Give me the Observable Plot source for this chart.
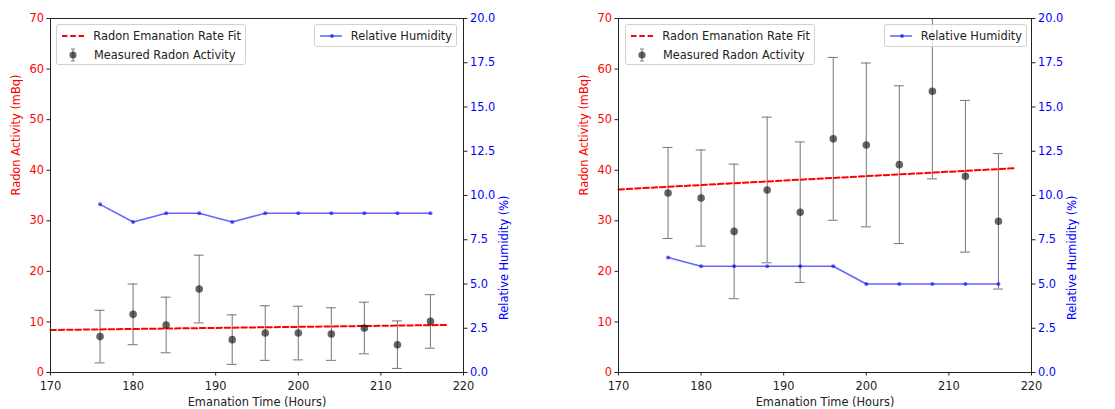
<!DOCTYPE html>
<html>
<head>
<meta charset="utf-8">
<script src="https://cdn.jsdelivr.net/npm/d3@7"></script>
<script src="https://cdn.jsdelivr.net/npm/@observablehq/plot@0.6"></script>
<style>
  html, body { margin: 0; padding: 0; background: #fff; }
  body { width: 1115px; height: 409px; overflow: hidden; font-family: "DejaVu Sans", sans-serif; }
  #row { display: flex; }
  .panel { position: relative; }
  .legend { position: absolute; background: rgba(255,255,255,0.8); border: 1px solid #d0d0d0; border-radius: 3px;
            font-family: "DejaVu Sans", sans-serif; font-size: 11.4px; color: #222; box-sizing: border-box; }
  .legend .item { display: flex; align-items: center; height: 19px; white-space: nowrap; }
  .legend svg { display: block; margin-right: 9px; }
</style>
</head>
<body>
<div id="row"></div>
<script>
// Shared categories
const hours = [176, 180, 184, 188, 192, 196, 200, 204, 208, 212, 216];
const xTicks = [170, 180, 190, 200, 210, 220];
const yTicks = [0, 10, 20, 30, 40, 50, 60, 70];
const rhTicks = [0, 2.5, 5, 7.5, 10, 12.5, 15, 17.5, 20];
const fitHours = [170, 218];

// Panel 1
const activity1 = [7.1, 11.5, 9.4, 16.5, 6.5, 7.8, 7.8, 7.6, 8.8, 5.5, 10.1];
const error1 = [5.2, 6.0, 5.5, 6.7, 4.9, 5.4, 5.3, 5.2, 5.1, 4.7, 5.3];
const fit1 = [8.4, 9.4];
const humidity1 = [9.5, 8.5, 9.0, 9.0, 8.5, 9.0, 9.0, 9.0, 9.0, 9.0, 9.0];

// Panel 2
const activity2 = [35.5, 34.5, 27.9, 36.1, 31.7, 46.2, 45.0, 41.1, 55.6, 38.8, 29.9];
const error2 = [9.0, 9.5, 13.3, 14.4, 13.9, 16.1, 16.2, 15.6, 17.3, 15.0, 13.4];
const fit2 = [36.2, 40.4];
const humidity2 = [6.5, 6.0, 6.0, 6.0, 6.0, 6.0, 5.0, 5.0, 5.0, 5.0, 5.0];

const Y_MAX = 70, RH_MAX = 20, K = Y_MAX / RH_MAX;
const DARK = "#222";
const BLUE = "blue";
const RED = "red";
const FS = 11.4;

function makePanel({activity, error, fit, humidity, width, marginLeft, marginRight, leg1, leg2}) {
  const meas = hours.map((h, i) => ({h, v: activity[i], lo: activity[i] - error[i], hi: activity[i] + error[i]}));
  const fitData = fitHours.map((h, i) => ({h, v: fit[i]}));
  const rh = hours.map((h, i) => ({h, v: humidity[i] * K}));
  const plot = Plot.plot({
    width, height: 409,
    marginLeft, marginRight, marginTop: 18, marginBottom: 37,
    style: {fontFamily: "DejaVu Sans, sans-serif", fontSize: FS + "px", background: "white"},
    x: {type: "linear", domain: [170, 220], label: null},
    y: {type: "linear", domain: [0, Y_MAX], label: null},
    marks: [
      // Error bars
      Plot.ruleX(meas, {x: "h", y1: "lo", y2: "hi", stroke: "#808080", strokeWidth: 1.1, clip: true}),
      Plot.ruleY(meas, {y: "lo", x1: d => d.h - 0.6, x2: d => d.h + 0.6, stroke: "#808080", strokeWidth: 1.1, clip: true}),
      Plot.ruleY(meas.filter(d => d.hi <= Y_MAX), {y: "hi", x1: d => d.h - 0.6, x2: d => d.h + 0.6, stroke: "#808080", strokeWidth: 1.1, clip: true}),
      // Fit line
      Plot.line(fitData, {x: "h", y: "v", stroke: RED, strokeWidth: 2, strokeDasharray: "5.5,2.8"}),
      // Measured points
      Plot.dot(meas, {x: "h", y: "v", r: 3.8, fill: "black", fillOpacity: 0.6, stroke: "none"}),
      // Humidity
      Plot.line(rh, {x: "h", y: "v", stroke: BLUE, strokeOpacity: 0.6, strokeWidth: 1.6}),
      Plot.dot(rh, {x: "h", y: "v", r: 2, fill: BLUE, fillOpacity: 0.6, stroke: "none"}),
      // Frame
      Plot.frame({stroke: DARK, strokeWidth: 1}),
      // X axis
      Plot.axisX({ticks: xTicks, tickSize: 3.5, tickPadding: 5.5, color: DARK, label: null}),
      // Left Y axis: ticks dark, labels red
      Plot.axisY({anchor: "left", ticks: yTicks, tickSize: 3.5, tickFormat: () => "", color: DARK, label: null}),
      Plot.axisY({anchor: "left", ticks: yTicks, tickSize: 0, tickPadding: 6.5, color: RED, label: null}),
      // Right Y axis: ticks dark, labels blue
      Plot.axisY({anchor: "right", ticks: rhTicks.map(t => t * K), tickSize: 3.5, tickFormat: () => "", color: DARK, label: null}),
      Plot.axisY({anchor: "right", ticks: rhTicks.map(t => t * K), tickSize: 0, tickPadding: 6.5,
        tickFormat: d => (d / K).toFixed(1), color: BLUE, label: null}),
      // Axis titles
      Plot.text(["Emanation Time (Hours)"], {frameAnchor: "bottom", dy: 33, fill: DARK, fontSize: FS}),
      Plot.text(["Radon Activity (mBq)"], {frameAnchor: "left", dx: -34, rotate: -90, fill: RED, fontSize: FS}),
      Plot.text(["Relative Humidity (%)"], {frameAnchor: "right", dx: 41, rotate: -90, fill: BLUE, fontSize: FS})
    ]
  });
  const wrap = document.createElement("div");
  wrap.className = "panel";
  wrap.style.width = width + "px";
  wrap.appendChild(plot);

  const l1 = document.createElement("div");
  l1.className = "legend";
  Object.assign(l1.style, {left: leg1.left + "px", top: "24px", width: leg1.width + "px", height: "41px", padding: "1px 4px"});
  l1.innerHTML = `
    <div class="item"><svg width="24" height="10"><line x1="1" y1="5" x2="23" y2="5" stroke="${RED}" stroke-width="2" stroke-dasharray="5.5,2.8"/></svg>Radon Emanation Rate Fit</div>
    <div class="item"><svg width="24" height="14"><line x1="12" y1="1" x2="12" y2="13" stroke="#808080" stroke-width="1.1"/><line x1="10" y1="1" x2="14" y2="1" stroke="#808080"/><line x1="10" y1="13" x2="14" y2="13" stroke="#808080"/><circle cx="12" cy="7" r="3.6" fill="black" fill-opacity="0.6"/></svg>Measured Radon Activity</div>`;
  wrap.appendChild(l1);

  const l2 = document.createElement("div");
  l2.className = "legend";
  Object.assign(l2.style, {left: leg2.left + "px", top: "24px", width: leg2.width + "px", height: "23px", padding: "1px 4px"});
  l2.innerHTML = `
    <div class="item"><svg width="26" height="10"><line x1="1" y1="5" x2="25" y2="5" stroke="${BLUE}" stroke-opacity="0.6" stroke-width="1.6"/><circle cx="13" cy="5" r="2" fill="${BLUE}" fill-opacity="0.6"/></svg>Relative Humidity</div>`;
  wrap.appendChild(l2);
  return wrap;
}

const row = document.getElementById("row");
row.appendChild(makePanel({activity: activity1, error: error1, fit: fit1, humidity: humidity1,
  width: 557, marginLeft: 50, marginRight: 94, leg1: {left: 56, width: 190}, leg2: {left: 314, width: 143}}));
row.appendChild(makePanel({activity: activity2, error: error2, fit: fit2, humidity: humidity2,
  width: 558, marginLeft: 61, marginRight: 84, leg1: {left: 68, width: 190}, leg2: {left: 327, width: 143}}));
</script>
</body>
</html>
